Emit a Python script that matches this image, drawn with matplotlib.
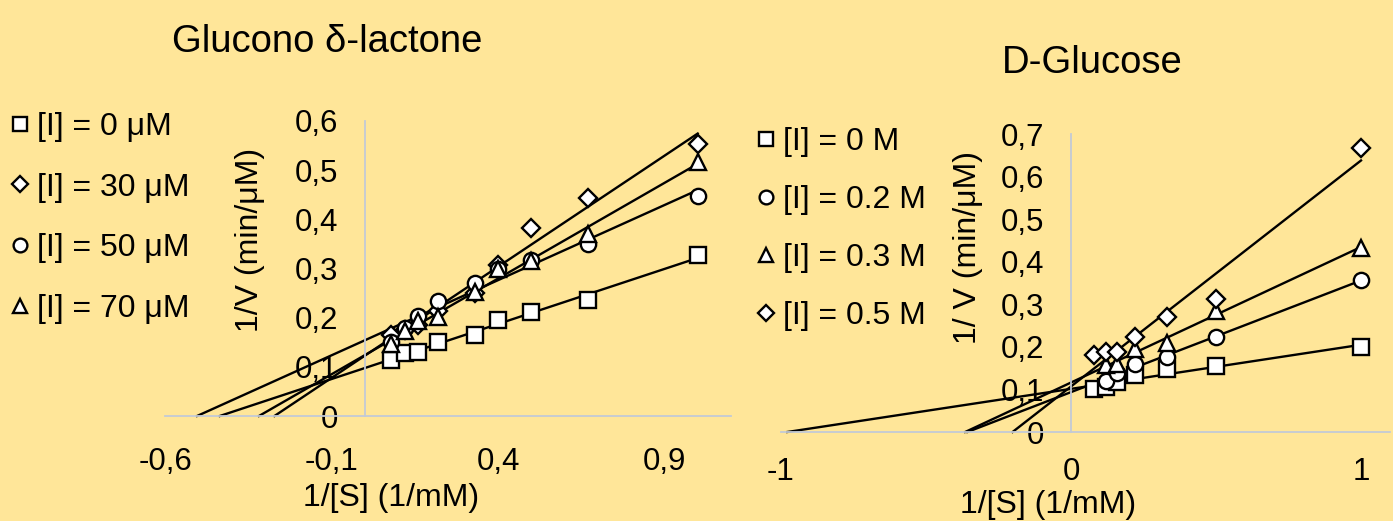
import numpy as np
import matplotlib.pyplot as plt
from matplotlib.ticker import FuncFormatter

plt.rcParams['font.family'] = ['Liberation Sans', 'DejaVu Sans']

# Glucono delta-lactone (left)
x_left = [0.08, 0.12, 0.16, 0.22, 0.33, 0.40, 0.50, 0.67, 1.00]
left_i0 = [0.113, 0.129, 0.131, 0.151, 0.164, 0.195, 0.212, 0.235, 0.327]
left_i30 = [0.164, 0.175, 0.186, 0.214, 0.250, 0.307, 0.382, 0.444, 0.554]
left_i50 = [0.150, 0.178, 0.203, 0.234, 0.271, 0.300, 0.317, 0.349, 0.447]
left_i70 = [0.147, 0.173, 0.193, 0.201, 0.253, 0.298, 0.315, 0.371, 0.517]
left_labels = ['[I] = 0 μM', '[I] = 30 μM', '[I] = 50 μM', '[I] = 70 μM']

# D-Glucose (right)
x_right = [0.08, 0.12, 0.16, 0.22, 0.33, 0.50, 1.00]
x_right_b = [0.12, 0.16, 0.22, 0.33, 0.50, 1.00]
right_i0 = [0.100, 0.105, 0.118, 0.134, 0.148, 0.154, 0.200]
right_i02 = [0.120, 0.138, 0.160, 0.176, 0.222, 0.357]
right_i03 = [0.157, 0.160, 0.196, 0.209, 0.284, 0.433]
right_i05 = [0.180, 0.187, 0.187, 0.223, 0.270, 0.313, 0.668]
right_labels = ['[I] = 0 M', '[I] = 0.2 M', '[I] = 0.3 M', '[I] = 0.5 M']

BG = '#FFE699'
AXC = '#c3cad6'
W, H = 1393, 521


def comma(v, pos):
    s = ('%.1f' % v).rstrip('0').rstrip('.') if abs(v) > 1e-9 else '0'
    return s.replace('.', ',')


def series(ax, xs, ys, marker, ms, label):
    xs = np.array(xs)
    ys = np.array(ys)
    k, b = np.polyfit(xs, ys, 1)
    x0 = -b / k
    xl = np.array([x0, xs.max()])
    ax.plot(xl, k * xl + b, color='black', lw=1.7, zorder=2, clip_on=False)
    h, = ax.plot(xs, ys, linestyle='none', marker=marker, ms=ms, mfc='white',
                 mec='black', mew=1.7, zorder=3, clip_on=False, label=label)
    return h


def style(ax, xlim, ylim, xticks, yticks, xpad):
    ax.set_facecolor(BG)
    ax.set_xlim(*xlim)
    ax.set_ylim(*ylim)
    ax.set_xticks(xticks)
    ax.set_yticks(yticks)
    ax.xaxis.set_major_formatter(FuncFormatter(comma))
    ax.yaxis.set_major_formatter(FuncFormatter(comma))
    ax.spines['left'].set_position(('data', 0))
    ax.spines['top'].set_visible(False)
    ax.spines['right'].set_visible(False)
    for s in ('left', 'bottom'):
        ax.spines[s].set_color(AXC)
        ax.spines[s].set_linewidth(1.3)
    ax.tick_params(axis='both', length=0, labelsize=22.5)
    ax.tick_params(axis='y', pad=19)
    ax.tick_params(axis='x', pad=xpad)


def fx(px):
    return px / W


def fy(py):
    return 1 - py / H


fig = plt.figure(figsize=(W / 100, H / 100), dpi=100, facecolor=BG)

axl = fig.add_axes([fx(165), fy(416), fx(731 - 165), (416 - 121) / H])
hl = [series(axl, x_left, left_i0, 's', 11, left_labels[0]),
      series(axl, x_left, left_i30, 'D', 9, left_labels[1]),
      series(axl, x_left, left_i50, 'o', 11, left_labels[2]),
      series(axl, x_left, left_i70, '^', 11, left_labels[3])]
style(axl, (-0.6, 1.1), (0, 0.6), [-0.6, -0.1, 0.4, 0.9], np.arange(0, 0.61, 0.1), 22)

axr = fig.add_axes([fx(781), fy(432), fx(1390 - 781), (432 - 134) / H])
hr = [series(axr, x_right, right_i0, 's', 11, right_labels[0]),
      series(axr, x_right_b, right_i02, 'o', 11, right_labels[1]),
      series(axr, x_right_b, right_i03, '^', 11, right_labels[2]),
      series(axr, x_right, right_i05, 'D', 9, right_labels[3])]
style(axr, (-1, 1.1), (0, 0.7), [-1, 0, 1], np.arange(0, 0.71, 0.1), 18)

fig.legend(handles=hl, loc='upper left', bbox_to_anchor=(fx(10), fy(112)),
           frameon=False, fontsize=23, markerscale=0.9, handlelength=0.6,
           handletextpad=0.25, labelspacing=0.96, borderpad=0, borderaxespad=0)
fig.legend(handles=hr, loc='upper left', bbox_to_anchor=(fx(756), fy(127)),
           frameon=False, fontsize=23, markerscale=0.9, handlelength=0.6,
           handletextpad=0.25, labelspacing=0.88, borderpad=0, borderaxespad=0)

fig.text(fx(327), fy(42), 'Glucono δ-lactone', fontsize=27.5, ha='center', va='center')
fig.text(fx(1092), fy(63), 'D-Glucose', fontsize=27.5, ha='center', va='center')
fig.text(fx(250), fy(240), '1/V (min/μM)', fontsize=23, rotation=90, ha='center', va='center')
fig.text(fx(968), fy(248), '1/ V (min/μM)', fontsize=23, rotation=90, ha='center', va='center')
fig.text(fx(391), fy(498), '1/[S] (1/mM)', fontsize=23, ha='center', va='center')
fig.text(fx(1048), fy(505), '1/[S] (1/mM)', fontsize=23, ha='center', va='center')

fig.savefig('out.png', dpi=100, facecolor=BG)
